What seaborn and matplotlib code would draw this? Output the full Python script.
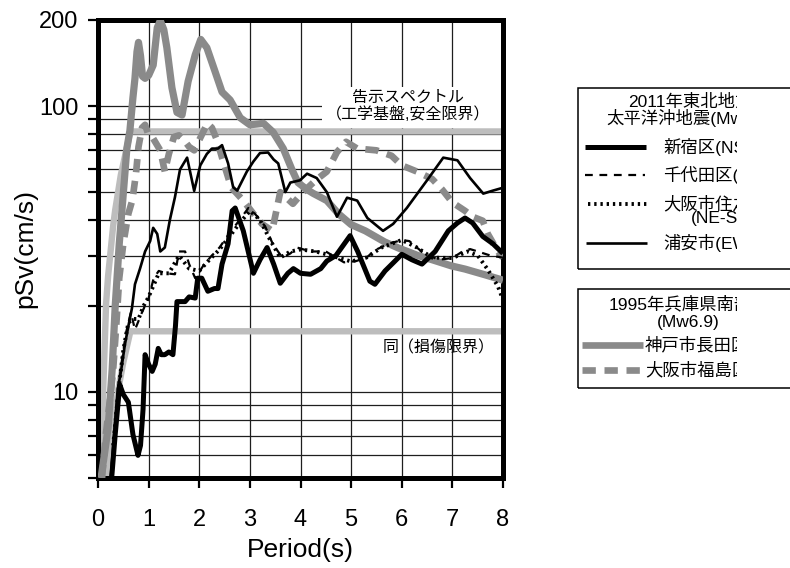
import matplotlib
matplotlib.use("Agg")
import matplotlib.pyplot as plt
import seaborn as sns
from matplotlib.lines import Line2D
from matplotlib.patches import Rectangle
from matplotlib.transforms import Bbox, TransformedBbox
from matplotlib.ticker import NullFormatter

# ---------------- data ----------------
# Building-code design spectra (engineering bedrock)
safety_T = [0.07, 0.1, 0.16, 0.2, 0.3, 0.34, 0.45, 0.64, 8.0]
safety_v = [5.0, 9.9, 20.4, 25.5, 38.2, 43.3, 57.3, 81.5, 81.5]
damage_T = [0.2, 0.3, 0.4, 0.5, 0.64, 8.0]
damage_v = [5.0, 7.6, 10.2, 12.7, 16.3, 16.3]

# 1995 Hyogo-ken Nanbu: Kobe Nagata
kobe_T = [0.06, 0.1, 0.2, 0.28, 0.34, 0.42, 0.49, 0.57, 0.63, 0.69, 0.73, 0.77, 0.8,
          0.84, 0.88, 0.93, 1.0, 1.09, 1.17, 1.23, 1.3, 1.36, 1.46, 1.56, 1.66, 1.78,
          1.92, 2.03, 2.15, 2.3, 2.45, 2.61, 2.81, 3.0, 3.27, 3.46, 3.66, 3.83, 3.95,
          4.13, 4.25, 4.52, 4.75, 5.0, 5.28, 5.66, 5.93, 6.32, 6.6, 6.98, 7.25, 7.64, 8.0]
kobe_v = [5.0, 5.6, 7.5, 12, 20, 33, 47, 71, 82, 107, 125, 155, 167,
          150, 127, 125, 128, 139, 188, 199, 185, 160, 116, 95, 93, 122,
          151, 171, 160, 134, 112, 105, 91, 86, 87, 81, 71, 60, 54,
          51, 49.5, 46.7, 42, 38.5, 36.6, 33.5, 31.9, 30, 29, 27.6, 26.9, 25.7, 24.6]

# 1995 Hyogo-ken Nanbu: Osaka Fukushima
fuku_T = [0.08, 0.15, 0.24, 0.3, 0.36, 0.42, 0.5, 0.6, 0.68, 0.75, 0.8, 0.87, 0.93,
          1.0, 1.09, 1.23, 1.32, 1.4, 1.5, 1.6, 1.7, 1.8, 1.9, 2.03, 2.16, 2.25, 2.35,
          2.45, 2.63, 2.87, 3.07, 3.24, 3.44, 3.6, 3.85, 4.05, 4.3, 4.52, 4.72, 4.9,
          5.12, 5.5, 5.8, 6.0, 6.3, 6.6, 6.8, 7.0, 7.25, 7.4, 7.6, 7.7, 7.9, 8.0]
fuku_v = [5.0, 7, 9.5, 12, 17, 25, 33, 42, 47, 58, 72, 84, 86,
          79, 77, 70, 59, 68, 78, 79, 76, 72, 70, 78, 87, 84, 76,
          66, 52, 46.7, 42, 38.7, 36.6, 50, 45.5, 50, 55, 59, 69, 75,
          71, 70, 67, 62, 59, 55.6, 51, 46, 43, 41, 39.7, 35.7, 31, 29.5]

# 2011 Tohoku: Shinjuku
shin_T = [0.2, 0.27, 0.34, 0.38, 0.43, 0.5, 0.6, 0.69, 0.79, 0.84, 0.89, 0.93, 1.0,
          1.07, 1.13, 1.19, 1.25, 1.32, 1.4, 1.48, 1.53, 1.56, 1.64, 1.72, 1.8, 1.92,
          1.97, 2.05, 2.17, 2.3, 2.37, 2.45, 2.57, 2.65, 2.71, 2.87, 3.07, 3.2, 3.34,
          3.47, 3.6, 3.75, 3.86, 4.0, 4.2, 4.4, 4.52, 4.7, 4.98, 5.13, 5.37, 5.47,
          5.67, 5.85, 6.0, 6.2, 6.4, 6.66, 6.92, 7.1, 7.25, 7.4, 7.6, 7.8, 8.0]
shin_v = [4.9, 5.0, 7.1, 8.5, 10.6, 9.8, 9.2, 7.1, 6.0, 6.5, 8.7, 13.5, 12.5,
          11.8, 12.5, 14.2, 13.5, 13.5, 13.8, 13.5, 17, 20.7, 20.7, 20.7, 21.5, 21.3,
          25, 25, 22.5, 23, 23, 28, 33, 43, 44, 36.6, 26, 29, 32,
          28, 24, 26, 27, 26, 25.8, 27, 28.7, 30, 35.2, 31, 24.4, 23.8,
          26.5, 28.5, 30.3, 29, 28, 31, 36.6, 39, 40.6, 39, 35, 33, 30.5]

# 2011 Tohoku: Chiyoda
chiy_T = [0.25, 0.35, 0.45, 0.55, 0.65, 0.73, 0.87, 1.0, 1.1, 1.2, 1.35, 1.52, 1.6,
          1.72, 1.8, 1.92, 2.1, 2.25, 2.4, 2.6, 2.8, 2.97, 3.1, 3.3, 3.45, 3.64, 3.8,
          3.93, 4.2, 4.5, 4.7, 4.86, 5.1, 5.3, 5.5, 5.75, 6.0, 6.15, 6.4, 6.72, 7.0,
          7.2, 7.35, 7.5, 7.75, 8.0]
chiy_v = [5.0, 8, 12, 16, 19, 16.5, 19, 21.3, 25, 26.5, 26, 25.8, 31,
          31, 28, 25, 28, 30, 32, 36, 40, 44, 42, 38, 33, 29.5, 30.5,
          32, 31, 31, 29.5, 28.4, 28.7, 29.5, 31.5, 33, 34, 33.7, 30.9, 29, 29.4,
          31, 31.6, 31, 30, 29.5]

# 2011 Tohoku: Osaka Suminoe
sumi_T = [0.3, 0.4, 0.5, 0.6, 0.7, 0.8, 0.9, 1.0, 1.2, 1.4, 1.6, 1.8, 2.0, 2.2,
          2.4, 2.6, 2.8, 3.0, 3.2, 3.4, 3.6, 3.8, 4.0, 4.3, 4.6, 5.0, 5.3, 5.6, 6.0,
          6.3, 6.6, 7.0, 7.3, 7.5, 7.7, 7.9, 8.0]
sumi_v = [6.5, 10, 14, 17.5, 18, 18, 20, 21.5, 26, 26, 30, 27, 26.5, 29,
          31.5, 35, 39, 43, 40, 34, 29.5, 31, 31.5, 31, 30, 28.6, 29.5, 32, 34,
          32, 29.5, 29.4, 31, 30, 26.8, 23.4, 21]

# 2011 Tohoku: Urayasu
uray_T = [0.25, 0.39, 0.46, 0.53, 0.6, 0.67, 0.73, 0.83, 0.93, 1.03, 1.09, 1.17,
          1.23, 1.32, 1.42, 1.52, 1.62, 1.76, 1.9, 2.02, 2.15, 2.25, 2.37, 2.45,
          2.57, 2.67, 2.75, 2.94, 3.07, 3.2, 3.36, 3.47, 3.56, 3.7, 3.8, 3.99, 4.13,
          4.32, 4.52, 4.72, 4.92, 5.12, 5.32, 5.63, 5.83, 6.1, 6.5, 6.82, 7.1, 7.35,
          7.61, 7.8, 8.0]
uray_v = [5.0, 10.2, 12, 14.6, 17, 19.6, 23.8, 27, 31, 33.7, 37.5, 35.7,
          31, 32, 40, 48, 60, 66, 50.5, 62, 68, 71, 71, 73,
          63, 52, 50.6, 59, 64, 68.5, 68.8, 65, 63, 50, 54, 55, 58,
          56, 50, 41, 47.8, 46.7, 40.6, 36.6, 38.7, 44, 55, 66, 64.6, 56,
          49.4, 50.6, 51.8]

y_major = [10, 100, 200]
y_minor = [5, 6, 7, 8, 9, 20, 30, 40, 50, 60, 70, 80, 90]
x_ticks = [0, 1, 2, 3, 4, 5, 6, 7, 8]

# ---------------- styling ----------------
sns.set_theme(style="white")
plt.rcParams['font.family'] = ['Liberation Sans', 'Noto Sans CJK JP']

LIGHT = '#bdbdbd'
MID = '#8a8a8a'

fig = plt.figure(figsize=(7.9, 5.68), dpi=100)
ax = fig.add_axes([98 / 790, 90 / 568, 405 / 790, 458 / 568])


def draw(T, v, color, lw, ls, z):
    sns.lineplot(x=T, y=v, ax=ax, color=color, linewidth=lw, sort=False,
                 estimator=None, errorbar=None, legend=False)
    line = ax.lines[-1]
    line.set_linestyle(ls)
    line.set_zorder(z)
    line.set_solid_capstyle('butt')
    line.set_dash_capstyle('butt')
    return line


draw(safety_T, safety_v, LIGHT, 4.6, '-', 2)
draw(damage_T, damage_v, LIGHT, 4.6, '-', 2)
draw(fuku_T, fuku_v, MID, 4.8, (0, (2.0, 1.3)), 3)
draw(kobe_T, kobe_v, MID, 5.2, '-', 3.1)
draw(uray_T, uray_v, 'black', 1.9, '-', 4)
draw(sumi_T, sumi_v, 'black', 2.8, (0, (0.6, 1.0)), 4)
draw(chiy_T, chiy_v, 'black', 1.6, (0, (3.5, 3.0)), 4)
draw(shin_T, shin_v, 'black', 3.6, '-', 4.2)

ax.set_yscale('log')
ax.set_xlim(0, 8)
ax.set_ylim(5, 200)
ax.set_yticks(y_major, labels=[str(t) for t in y_major])
ax.set_yticks(y_minor, minor=True)
ax.yaxis.set_minor_formatter(NullFormatter())
ax.set_xticks(x_ticks, labels=[str(t) for t in x_ticks])

ax.set_axisbelow(True)
ax.grid(True, which='both', axis='y', color='#1e1e1e', lw=0.9)
ax.grid(True, which='major', axis='x', color='#1e1e1e', lw=0.9)

ax.tick_params(axis='y', which='both', left=True, right=False, direction='out',
               length=7, width=1.6, color='black', labelcolor='black',
               labelsize=17, pad=7)
ax.tick_params(axis='x', which='both', bottom=True, top=False, direction='out',
               length=7, width=1.6, color='black', labelcolor='black',
               labelsize=17, pad=15)
for s in ax.spines.values():
    s.set_visible(True)
    s.set_linewidth(3.6)
    s.set_color('black')

ax.set_xlabel('Period(s)', fontsize=19, labelpad=5, color='black')
ax.set_ylabel('pSv(cm/s)', fontsize=19, color='black')
ax.yaxis.set_label_coords(-0.15, 0.5)

# label for the design spectrum, on a white patch over the grid
ax.add_patch(Rectangle((0.553, 0.764), 0.447, 0.09, transform=ax.transAxes,
                       facecolor='white', edgecolor='none', zorder=1))
ax.text(0.765, 0.812, '告示スペクトル\n（工学基盤,安全限界）', transform=ax.transAxes,
        ha='center', va='center', fontsize=11.5, linespacing=1.1, zorder=1.5,
        color='black')
ax.text(0.842, 0.284, '同（損傷限界）', transform=ax.transAxes,
        ha='center', va='center', fontsize=11.5, zorder=1.5, color='black')

# ---------------- legend boxes ----------------
W, H = 790.0, 568.0


def fx(x):
    return x / W


def fy(y):
    return 1 - y / H


clip = TransformedBbox(Bbox.from_extents(0, 0, 737 / W, 1), fig.transFigure)


def ltext(x, y, s):
    t = fig.text(fx(x), fy(y), s, ha='left', va='center', fontsize=12.5, color='black')
    t.set_clip_box(clip)
    t.set_clip_on(True)
    return t


def lline(x0, x1, y, color, lw, ls):
    fig.add_artist(Line2D([fx(x0), fx(x1)], [fy(y), fy(y)], transform=fig.transFigure,
                          color=color, lw=lw, linestyle=ls, solid_capstyle='butt',
                          dash_capstyle='butt'))


fig.add_artist(Rectangle((fx(578), fy(269)), fx(830) - fx(578), (269 - 88) / H,
                         transform=fig.transFigure, fill=False, ec='black', lw=1.1))
fig.add_artist(Rectangle((fx(578), fy(388)), fx(830) - fx(578), (388 - 289) / H,
                         transform=fig.transFigure, fill=False, ec='black', lw=1.1))

ltext(628, 102, '2011年東北地方')
ltext(606, 118, '太平洋沖地震(Mw9.0)')
lline(585, 646, 147, 'black', 3.6, '-')
ltext(663, 147, '新宿区(NS)')
lline(585, 645, 175, 'black', 1.6, (0, (3.5, 3.0)))
ltext(663, 175, '千代田区(NS)')
lline(588, 648, 204, 'black', 2.8, (0, (0.6, 1.0)))
ltext(663, 204, '大阪市住之江')
ltext(691, 219, '(NE-SW)')
lline(586, 647, 243, 'black', 1.9, '-')
ltext(663, 243, '浦安市(EW)')

ltext(609, 304, '1995年兵庫県南部地震')
ltext(657, 322, '(Mw6.9)')
lline(582, 643, 345, MID, 4.8, '-')
ltext(645, 345, '神戸市長田区')
lline(582, 643, 370, MID, 4.8, (0, (2.0, 1.3)))
ltext(645, 370, '大阪市福島区')

fig.savefig('out.png', dpi=100, facecolor='white')
